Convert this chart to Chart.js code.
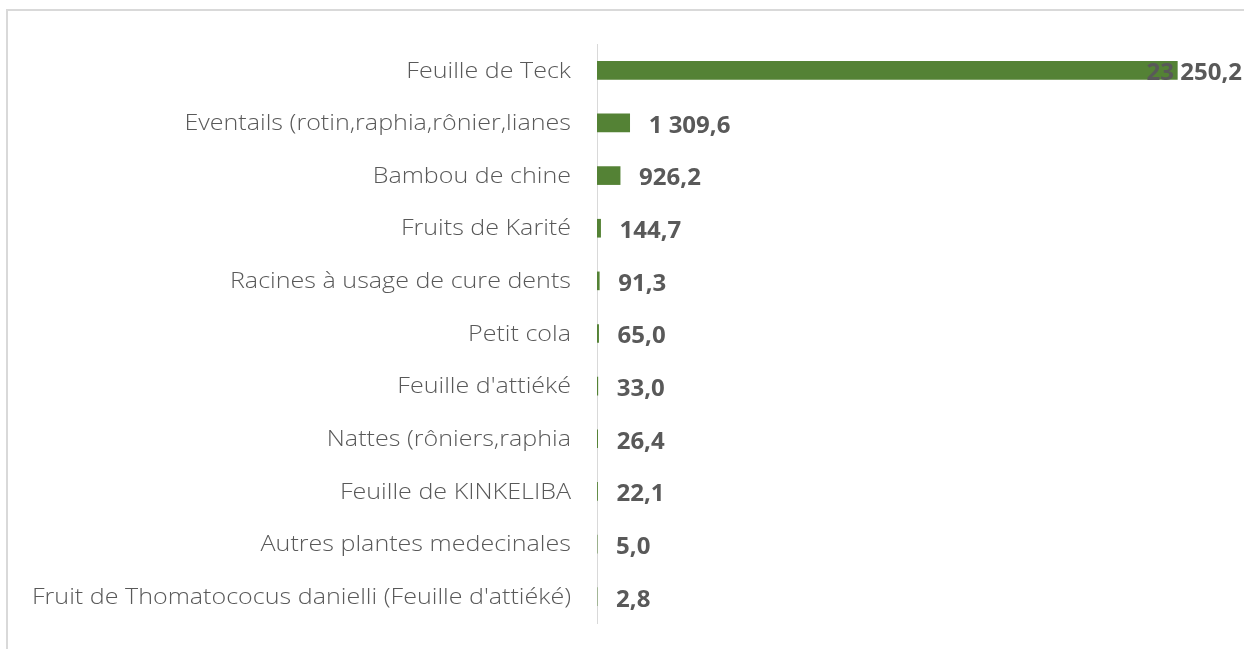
<!DOCTYPE html>
<html>
<head>
<meta charset="utf-8">
<script src="https://cdn.jsdelivr.net/npm/chart.js@4/dist/chart.umd.min.js"></script>
<style>
  html, body { margin: 0; padding: 0; background: #fff; }
  #wrap { position: relative; width: 1244px; height: 649px; }
</style>
</head>
<body>
<div id="wrap"><canvas id="c" width="1244" height="649"></canvas></div>
<script>
// Produits forestiers non ligneux : valeurs par produit
const categories = [
  "Feuille de Teck",
  "Eventails (rotin,raphia,rônier,lianes",
  "Bambou de chine",
  "Fruits de Karité",
  "Racines à usage de cure dents",
  "Petit cola",
  "Feuille d'attiéké",
  "Nattes (rôniers,raphia",
  "Feuille de KINKELIBA",
  "Autres plantes medecinales",
  "Fruit de Thomatococus danielli (Feuille d'attiéké)"
];
const values = [23250.2, 1309.6, 926.2, 144.7, 91.3, 65.0, 33.0, 26.4, 22.1, 5.0, 2.8];

const BAR_COLOR = "#548235";
const TEXT_COLOR = "#595959";
const LINE_COLOR = "#d9d9d9";

// French number format: space for thousands, comma for decimals
function frNumber(v) {
  const parts = v.toFixed(1).split(".");
  const int = parts[0].replace(/\B(?=(\d{3})+(?!\d))/g, " ");
  return int + "," + parts[1];
}

// Light frame around the chart area
const framePlugin = {
  id: "frame",
  beforeDraw(chart) {
    const ctx = chart.ctx;
    ctx.save();
    ctx.strokeStyle = LINE_COLOR;
    ctx.lineWidth = 2;
    ctx.beginPath();
    ctx.moveTo(7, 649);
    ctx.lineTo(7, 10);
    ctx.lineTo(1244, 10);
    ctx.stroke();
    ctx.restore();
  }
};

// Category names, right-aligned against the axis, slightly widened
const categoryLabels = {
  id: "categoryLabels",
  afterDraw(chart) {
    const ctx = chart.ctx;
    const yScale = chart.scales.y;
    const right = yScale.right - 26;
    const stretch = 1.14;
    ctx.save();
    ctx.font = "300 22px 'Open Sans', Lato, sans-serif";
    ctx.fillStyle = TEXT_COLOR;
    ctx.textBaseline = "middle";
    ctx.textAlign = "right";
    categories.forEach((name, i) => {
      const y = yScale.getPixelForTick(i);
      ctx.save();
      ctx.translate(right, y + 1);
      ctx.scale(stretch, 1);
      ctx.fillText(name, 0, 0);
      ctx.restore();
    });
    ctx.restore();
  }
};

// Value labels just past the end of each bar, kept inside the canvas
const valueLabels = {
  id: "valueLabels",
  afterDatasetsDraw(chart) {
    const ctx = chart.ctx;
    const meta = chart.getDatasetMeta(0);
    ctx.save();
    ctx.font = "bold 24px 'Open Sans', Lato, sans-serif";
    ctx.fillStyle = TEXT_COLOR;
    ctx.textBaseline = "middle";
    ctx.textAlign = "left";
    meta.data.forEach((bar, i) => {
      const txt = frNumber(values[i]);
      const w = ctx.measureText(txt).width;
      let x = bar.x + 19;
      if (x + w > 1242) x = 1242 - w;
      ctx.fillText(txt, x, bar.y + 3);
    });
    ctx.restore();
  }
};

new Chart(document.getElementById("c"), {
  type: "bar",
  data: {
    labels: categories,
    datasets: [{
      data: values,
      backgroundColor: BAR_COLOR,
      borderWidth: 0,
      barThickness: 18
    }]
  },
  options: {
    indexAxis: "y",
    responsive: false,
    animation: false,
    layout: { padding: { top: 44, bottom: 26, right: 23, left: 0 } },
    plugins: { legend: { display: false }, tooltip: { enabled: false } },
    scales: {
      x: {
        display: false,
        min: 0,
        max: 25000
      },
      y: {
        afterFit(scale) {
          scale.width = 597;
          scale.paddingTop = 0;
          scale.paddingBottom = 0;
        },
        grid: { display: false, drawTicks: false },
        border: { display: true, color: LINE_COLOR, width: 1 },
        ticks: { display: false }
      }
    }
  },
  plugins: [framePlugin, categoryLabels, valueLabels]
});
</script>
</body>
</html>
